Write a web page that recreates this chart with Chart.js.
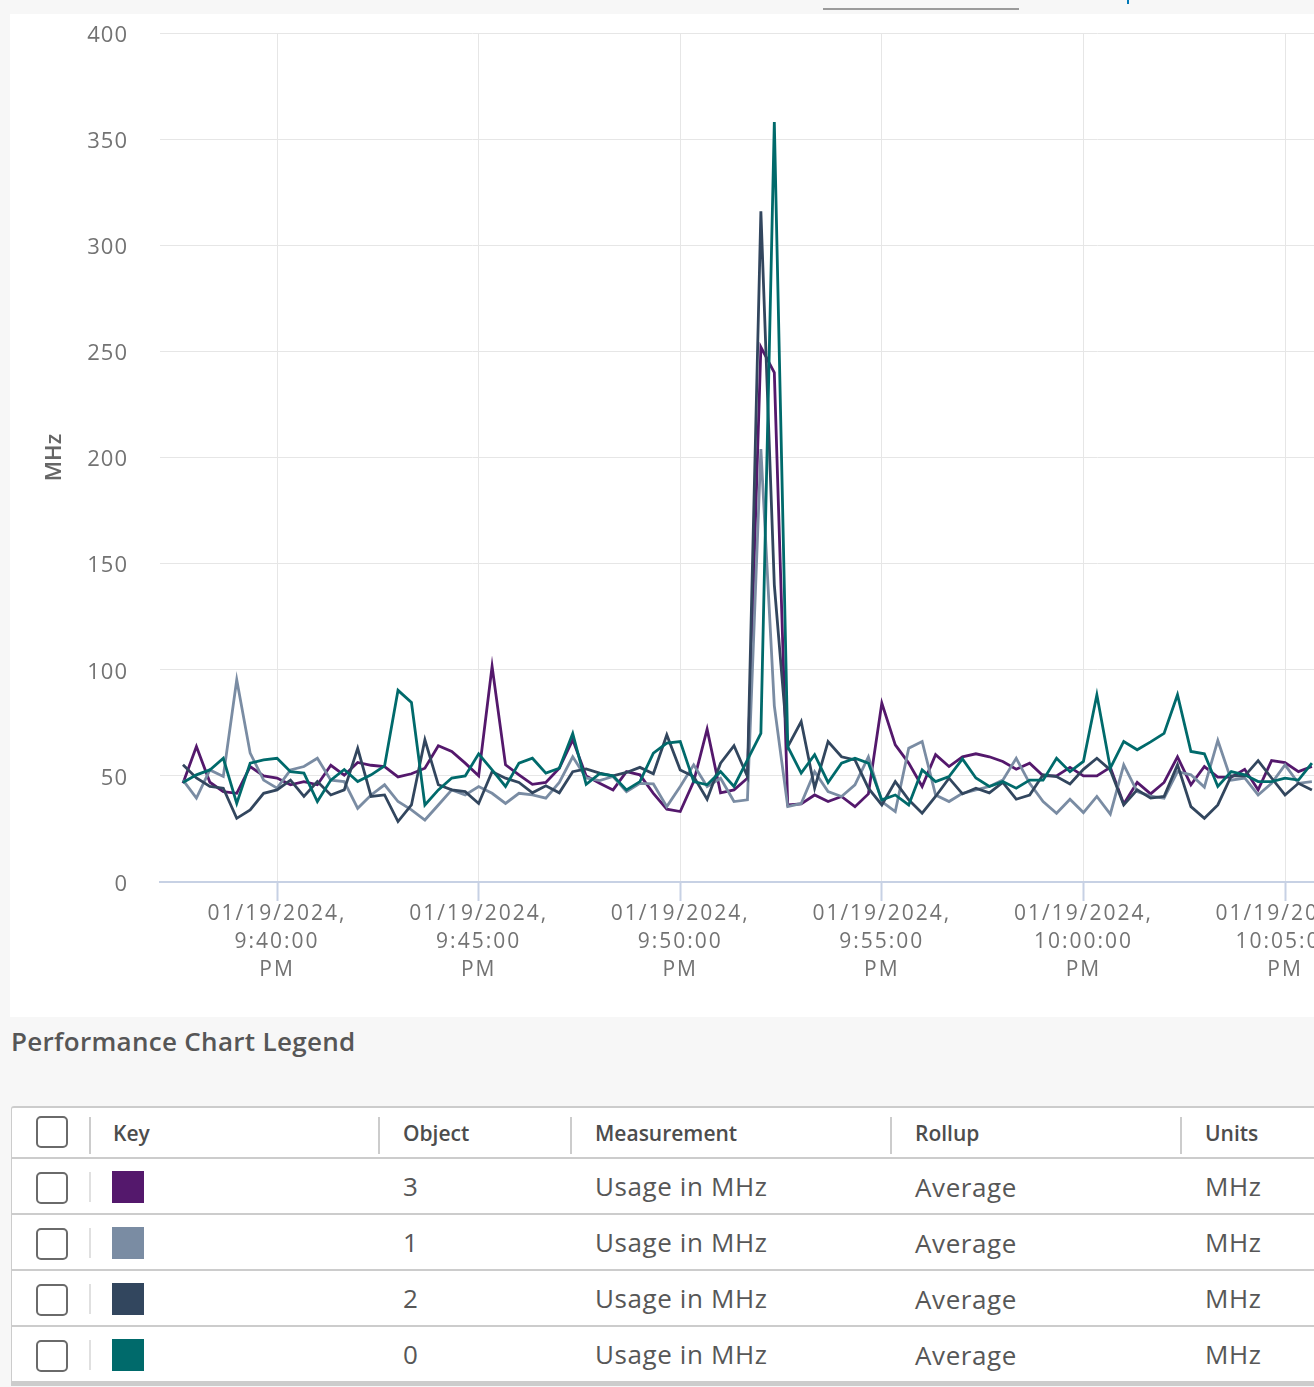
<!DOCTYPE html>
<html>
<head>
<meta charset="utf-8">
<script src="https://cdn.jsdelivr.net/npm/chart.js@4.4.1/dist/chart.umd.min.js"></script>
<style>
  html, body { margin:0; padding:0; }
  body { width:1314px; height:1387px; overflow:hidden; background:#f7f7f7; position:relative; font-family:'Open Sans', sans-serif; }
  #tabline { position:absolute; left:823px; top:8px; width:196px; height:2px; background:#9b9b9b; }
  #tabmark { position:absolute; left:1127px; top:0; width:2px; height:4px; background:#0079b8; }
  #panel { position:absolute; left:10px; top:14px; width:1400px; height:1003px; background:#fff; }
  #legendTitle { position:absolute; left:11px; top:1022px; font-size:26px; font-weight:600; color:#565656; line-height:38px; letter-spacing:0.3px; }
  #table { position:absolute; left:11px; top:1106px; width:1400px; background:#fff; border-left:1px solid #ccc; border-top:2px solid #ccc; border-top-left-radius:3px; }
  .row { position:relative; height:54px; border-bottom:2px solid #ccc; }
  .row.head { height:49px; }
  .row.last { border-bottom:5px solid #ccc; }
  .cell { position:absolute; top:0; height:100%; display:flex; align-items:center; white-space:nowrap; }
  .head .cell { font-size:21px; font-weight:600; color:#4d4d4d; }
  .body .cell { font-size:26px; color:#575757; letter-spacing:0.6px; }
  .cb { position:absolute; left:24px; width:28px; height:28px; border:2px solid #6a6a6a; border-radius:5px; background:#fff; }
  .head .cb { top:8px; }
  .body .cb { top:13px; }
  .sep { position:absolute; width:2px; background:#ccc; }
  .head .sep { top:9px; height:37px; }
  .body .sep { top:13px; height:30px; background:#e0e0e0; }
  .sw { position:absolute; left:100px; top:12px; width:32px; height:32px; }
</style>
</head>
<body>
<div id="tabline"></div>
<div id="tabmark"></div>
<div id="panel"><canvas id="c"></canvas></div>
<div id="legendTitle">Performance Chart Legend</div>
<div id="table"></div>
<script>
// ---- data (one value every 20 s, first sample 9:37:40 PM) ----
const seriesNames  = ["3", "1", "2", "0"];
const seriesColors = ["#54186c", "#7a8ca3", "#32465e", "#006a6b"];
const measurement  = "Usage in MHz";
const rollup       = "Average";
const units        = "MHz";

const obj3 = [46.5,63.8,47,42.6,41.8,54.4,50,49,45.8,47.3,45.8,55,50.3,56.3,55,54.4,49.5,51,53.6,64.2,
  61.5,56,50,101.6,55.2,50.5,46,46.9,53.6,67,50,46.5,43.4,52,50.5,41.8,34.3,33.2,47.3,72,
  42,43.4,48.9,252,240,36.3,36.8,41,37.9,40.3,35.5,41.5,84.3,64.6,56,45,60,54.4,59,60.4,
  59,56.8,53.1,56,50,50,54,50,50,54,36.8,46.9,41.5,46.9,59,45.8,54.4,49.4,49.4,53.1,
  43.4,57.2,56.3,52,54.4];
const obj1 = [48,39.5,52.8,49.7,95.3,60.7,48,44.2,52.8,54.4,58.3,48,47.3,34.7,41,45.8,37.9,34,29.2,36.3,
  43.4,41,45,41.8,37,41.8,41,39.5,46.9,59,49,47.8,49.7,42.6,46.5,46.2,35.5,45,55.2,45,
  48.9,37.9,38.7,204,83,35.5,37,52,42.6,40.3,45.8,59,37.9,33.2,63,66.2,41,37.9,41.8,43.4,
  45,48,58.3,46.5,37.9,32.4,39,32.7,40.3,32,55.2,42.6,40.5,39.5,52,50.5,44.7,66.7,48,49,
  41,46.5,55.2,46.5,47.3];
const obj2 = [55.2,49,45,44.2,30,34,41.8,43.4,48,40.3,47.3,41,43.4,63,40.3,41,28.5,36.3,67,45.8,
  43.4,42.6,37,52,48.9,46.9,42,45.3,42,52,53.3,51.3,50,51.6,54,51,69.3,52.8,49.7,39,
  56,64.2,49.7,316,140,63.8,75.6,44.2,66.2,59,57.5,44.2,36.3,47.3,38.7,32.4,40.3,48.9,41.5,44.2,
  42,46.9,39,41,50.5,49.7,46.2,53.1,58.3,52.8,36.3,43.4,39.5,40.3,55.2,35.5,30,36.3,50,50,
  57.2,49,41,46.5,43.4];
const obj0 = [46.9,50.5,52.8,58.3,37,56,57.5,58.3,52,51.3,37.9,48,53,47.3,50.5,54.7,90.3,84.6,36.3,43.4,
  49,50,60.4,52.8,45,56,58.3,51.3,53.6,70,46,51,50,43.4,47.3,60.7,65.4,66.2,47.3,45.8,
  52,45,57.5,70,358,63.8,51.3,60,46.9,56,58.3,56,38.7,41,36.3,52.8,47.3,49.7,58,49,
  45,47.3,44.2,48,48,58.3,52,56.8,88.2,53.6,66.2,62.3,66,70,88.2,61.5,60.4,45,52,50.5,
  47.3,47.3,48.9,48,56];
const seriesValues = [obj3, obj1, obj2, obj0];

const tickSampleIndex = [7, 22, 37, 52, 67, 82];
const tickDates = ["01/19/2024,", "01/19/2024,", "01/19/2024,", "01/19/2024,", "01/19/2024,", "01/19/2024,"];
const tickTimes = ["9:40:00", "9:45:00", "9:50:00", "9:55:00", "10:00:00", "10:05:00"];
const tickAmPm  = ["PM", "PM", "PM", "PM", "PM", "PM"];
const yTicks = [0, 50, 100, 150, 200, 250, 300, 350, 400];

// ---- chart ----
Chart.defaults.font.family = "'Open Sans', sans-serif";
function spaced(px) {
  return function (scale) {
    if (scale._spacedPatched) return;
    scale._spacedPatched = true;
    const orig = scale.drawLabels;
    scale.drawLabels = function (ca) {
      const c = this.ctx; const prev = c.letterSpacing;
      c.letterSpacing = px; orig.call(this, ca); c.letterSpacing = prev;
    };
  };
}

const datasets = seriesValues.map((vals, k) => ({
  label: seriesNames[k],
  data: vals.map((v, i) => ({ x: i, y: v })),
  borderColor: seriesColors[k],
  backgroundColor: seriesColors[k],
  borderWidth: 2.8,
  pointRadius: 0,
  tension: 0,
  fill: false,
  order: seriesValues.length - k
}));

new Chart(document.getElementById('c'), {
  type: 'line',
  data: { datasets },
  options: {
    responsive: true,
    maintainAspectRatio: false,
    animation: false,
    events: [],
    layout: { padding: { top: 19, right: 0, bottom: 0, left: 0 } },
    plugins: { legend: { display: false }, tooltip: { enabled: false } },
    scales: {
      x: {
        type: 'linear',
        min: -1.71,
        max: 91.3,
        afterBuildTicks: (s) => { s.ticks = tickSampleIndex.map(v => ({ value: v })); },
        afterFit: (s) => { s.height = 135; },
        afterUpdate: spaced('2px'),
        grid: { color: '#e6e6e6', lineWidth: 1, tickColor: '#c7d1e4', tickLength: 19, tickWidth: 2 },
        border: { color: '#c7d1e4', width: 2 },
        ticks: {
          autoSkip: false, maxRotation: 0, minRotation: 0, padding: -1,
          color: '#737373',
          font: { size: 21, lineHeight: 1.333 },
          callback: (v) => {
            const k = tickSampleIndex.indexOf(v);
            return k < 0 ? '' : [tickDates[k], tickTimes[k], tickAmPm[k]];
          }
        }
      },
      y: {
        min: 0, max: 400,
        afterBuildTicks: (s) => { s.ticks = yTicks.map(v => ({ value: v })); },
        afterFit: (s) => { s.width = 150; s.paddingTop = 0; s.paddingBottom = 0; },
        afterUpdate: spaced('1px'),
        grid: { color: '#e6e6e6', lineWidth: 1, drawTicks: false },
        border: { display: false },
        title: { display: true, text: 'MHz', color: '#666', font: { size: 22, weight: '600' }, padding: { top: 32, bottom: 0 } },
        ticks: { color: '#737373', font: { size: 22 }, padding: 32, labelOffset: 2.5 }
      }
    }
  }
});

// ---- legend table ----
const cols = [
  { left: 101, text: 'Key' },
  { left: 391, text: 'Object' },
  { left: 583, text: 'Measurement' },
  { left: 903, text: 'Rollup' },
  { left: 1193, text: 'Units' }
];
const seps = [77, 366, 558, 878, 1168];
const table = document.getElementById('table');
let html = '<div class="row head"><div class="cb"></div>';
seps.forEach(s => html += `<div class="sep" style="left:${s}px"></div>`);
cols.forEach(c => html += `<div class="cell" style="left:${c.left}px">${c.text}</div>`);
html += '</div>';
seriesNames.forEach((n, k) => {
  html += `<div class="row body${k === seriesNames.length - 1 ? ' last' : ''}">` +
    `<div class="cb"></div><div class="sep" style="left:77px"></div>` +
    `<div class="sw" style="background:${seriesColors[k]}"></div>` +
    `<div class="cell" style="left:391px">${n}</div>` +
    `<div class="cell" style="left:583px">${measurement}</div>` +
    `<div class="cell" style="left:903px;padding-top:1px">${rollup}</div>` +
    `<div class="cell" style="left:1193px">${units}</div></div>`;
});
table.innerHTML = html;
</script>
</body>
</html>
